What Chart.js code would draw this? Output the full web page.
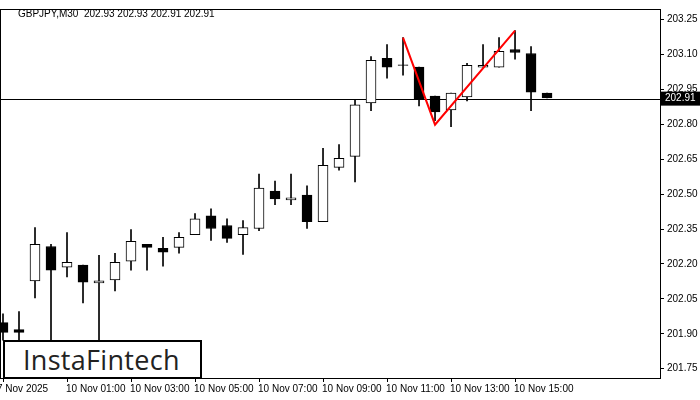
<!DOCTYPE html>
<html><head><meta charset="utf-8">
<script src="https://cdn.jsdelivr.net/npm/chart.js@4.4.1/dist/chart.umd.min.js"></script>
<style>
body{margin:0;background:#fff;}
#wrap{position:relative;width:700px;height:400px;}
#title{position:absolute;left:18px;top:8px;font:10px "Liberation Sans",sans-serif;color:#000;}
#logo{position:absolute;left:3px;top:340px;height:35px;border:2px solid #000;background:#fff;font:27px "Open Sans","DejaVu Sans",sans-serif;color:#222;line-height:35px;padding-left:18px;width:177px;letter-spacing:0.3px;}
</style></head><body>
<div id="wrap"><canvas id="c" width="700" height="400"></canvas>
<div id="title">GBPJPY,M30&nbsp; 202.93 202.93 202.91 202.91</div>
<div id="logo">InstaFintech</div></div>
<script>
const opens  =[201.948,201.918,202.127,202.275,202.186,202.195,202.118,202.131,202.212,202.284,202.267,202.271,202.326,202.407,202.365,202.326,202.352,202.513,202.475,202.496,202.382,202.615,202.662,202.892,203.083,203.053,203.045,202.921,202.862,202.917,203.045,203.045,203.121,203.104,202.934];
const highs  =[201.986,201.995,202.356,202.284,202.335,202.195,202.237,202.246,202.348,202.284,202.314,202.335,202.416,202.437,202.394,202.386,202.586,202.556,202.586,202.535,202.696,202.713,202.904,203.091,203.142,203.172,203.045,202.921,202.934,203.062,203.142,203.172,203.202,203.134,202.934];
const lows   =[201.872,201.850,202.054,201.850,202.144,202.033,201.850,202.084,202.173,202.173,202.190,202.246,202.326,202.301,202.292,202.241,202.343,202.454,202.454,202.352,202.382,202.603,202.552,202.858,202.998,203.011,202.879,202.815,202.790,202.900,203.045,203.045,203.079,202.858,202.913];
const closes =[201.906,201.906,202.284,202.173,202.207,202.122,202.127,202.207,202.297,202.271,202.250,202.314,202.394,202.352,202.310,202.356,202.526,202.479,202.484,202.382,202.624,202.654,202.883,203.074,203.045,203.053,202.909,202.853,202.934,203.053,203.053,203.113,203.108,202.938,202.913];
const xLabels={0:"7 Nov 2025",4:"10 Nov 01:00",8:"10 Nov 03:00",12:"10 Nov 05:00",16:"10 Nov 07:00",20:"10 Nov 09:00",24:"10 Nov 11:00",28:"10 Nov 13:00",32:"10 Nov 15:00"};
const yTicks=[201.75,201.90,202.05,202.20,202.35,202.50,202.65,202.80,202.95,203.10,203.25];
const patternX=[25,27,32];
const patternY=[203.172,202.798,203.202];
const lastPrice=202.91;

const bodies=opens.map((o,i)=>({x:i,y:[o,closes[i]===o?o+0.002:closes[i]]}));
const wicks=opens.map((o,i)=>({x:i,y:[lows[i],highs[i]]}));
const fills=opens.map((o,i)=>closes[i]>o?'#fff':'#000');
const FONT='"Liberation Sans"';

const extra={id:'extra',
 beforeDatasetsDraw(ch){const {ctx,chartArea:a,scales:{y}}=ch;const py=Math.round(y.getPixelForValue(lastPrice))+0.5;
  ctx.save();ctx.strokeStyle='#000';ctx.lineWidth=1;ctx.beginPath();ctx.moveTo(a.left,py);ctx.lineTo(a.right,py);ctx.stroke();ctx.restore();},
 afterDraw(ch){const {ctx,chartArea:a,scales:{x,y}}=ch;ctx.save();ctx.strokeStyle='#000';ctx.lineWidth=1;
  ctx.strokeRect(a.left+0.5,a.top+0.5,a.right-a.left,a.bottom-a.top);
  ctx.fillStyle='#000';ctx.font='10px '+FONT;ctx.textBaseline='top';ctx.textAlign='left';
  for(const k in xLabels){ctx.fillText(xLabels[k],x.getPixelForValue(+k)-(+k===0?6:1),a.bottom+6);}
  const py=y.getPixelForValue(lastPrice);ctx.fillStyle='#000';ctx.fillRect(a.right+1,py-7,39,14);
  ctx.fillStyle='#fff';ctx.textBaseline='middle';ctx.fillText(lastPrice.toFixed(2),a.right+5,py);ctx.restore();}};

new Chart(document.getElementById('c'),{
 data:{datasets:[
  {type:'line',data:patternX.map((x,i)=>({x,y:patternY[i]})),borderColor:'#f00',borderWidth:2,pointRadius:0,order:0},
  {type:'bar',data:bodies,backgroundColor:fills,borderColor:'#000',borderWidth:1,borderSkipped:false,barThickness:10,grouped:false,order:1},
  {type:'bar',data:wicks,backgroundColor:'#000',borderWidth:0,barThickness:1,grouped:false,order:2}
 ]},
 options:{responsive:false,animation:false,events:[],
  layout:{padding:{top:5,left:0,right:0,bottom:0}},
  plugins:{legend:{display:false},tooltip:{enabled:false}},
  scales:{
   x:{type:'linear',offset:false,min:-0.1875,max:41.06,grid:{display:true,offset:false,drawOnChartArea:false,tickLength:4,color:'#000'},border:{color:'#000'},
     afterBuildTicks(s){s.ticks=Object.keys(xLabels).map(k=>({value:+k}));},
     afterFit(s){s.height=22;},
     ticks:{display:false}},
   y:{position:'right',min:201.71,max:203.295,grid:{display:true,drawOnChartArea:false,tickLength:4,color:'#000'},border:{color:'#000'},
     afterBuildTicks(s){s.ticks=yTicks.map(v=>({value:v}));},
     afterFit(s){s.width=40;},
     ticks:{padding:3,color:'#000',font:{family:'Liberation Sans',size:10},callback:v=>v.toFixed(2)}}
  }},
 plugins:[extra]});
</script></body></html>
